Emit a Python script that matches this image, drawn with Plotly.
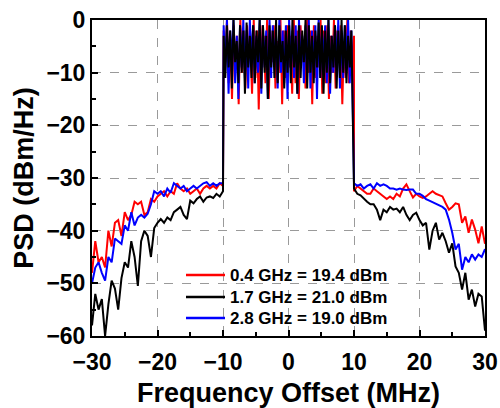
import numpy as np
import plotly.graph_objects as go

# ---- data ----
x_left = [-30 + 0.5 * i for i in range(41)]     # -30 ... -10
x_right = [10 + 0.5 * i for i in range(41)]     # 10 ... 30

red_left = [-48, -42, -46, -45, -47, -40, -43, -38.5, -38, -41, -36.5, -38, -37, -34.5, -35, -34.5,
            -37, -36.5, -34, -34.5, -33.5, -33, -32.5, -33.5, -32.5, -33, -31, -32, -32.5, -32,
            -33, -32.5, -32, -33, -32, -31.5, -32, -31.5, -32, -31, -31.5]
black_left = [-58, -52, -55, -53, -60, -54, -49.5, -51, -55, -49, -46, -47, -42, -45, -50.5, -42,
              -40, -41, -45, -39.5, -38.5, -37.8, -38.5, -37.5, -38, -36.5, -36, -35.5, -37, -37.8,
              -34.3, -34.8, -34, -33.5, -34.5, -33.7, -33.5, -33.8, -33, -33.5, -32.5]
blue_left = [-50, -47, -46, -48, -49.5, -45, -46, -41.5, -42, -42.5, -39, -40, -36.5, -39, -37.5,
             -37, -37.5, -36.8, -35, -32.5, -33, -32.5, -33.5, -32, -32.8, -31, -31.5, -32, -31.5,
             -32.5, -32, -31.5, -32, -31.5, -31, -30.8, -31.5, -31, -31.5, -31, -31]

red_in = [-2, -8, 0, -12, -4, -15, -1, -9, -3, -16, 0, -10, -2, -13, -1, -7, -5, -14, 0, -11, -2,
          -17, -1, -9, -3, -12, 0, -15, -2, -8, -1, -13, -4, -10, 0, -16, -2, -11, -1, -9, -3, -14,
          0, -12, -2, -15, -1, -8, -4, -13, 0, -10, -2, -16, -1, -11, -3, -9, 0, -14, -2, -12, -1,
          -15, -3, -10, 0, -13, -2, -8, -1, -16, -4, -11, 0, -12, -2, -9, -3]
black_in = [-3, -11, -1, -9, -2, -13, 0, -8, -4, -12, -1, -10, -2, -14, -0.5, -9, -3, -11, -1, -12,
            -2, -8, 0, -13, -1, -10, -3, -15, -1, -9, -2, -11, 0, -12, -1, -8, -4, -13, -2, -10, -1,
            -12, 0, -9, -3, -14, -1, -11, -2, -8, 0, -13, -1, -10, -3, -12, -2, -9, -0.5, -11, -1,
            -14, -2, -10, 0, -12, -3, -9, -1, -13, -2, -11, 0, -10, -1, -12, -3, -9, -2]
blue_in = [-1, -10, 0, -14, -2, -8, 0, -12, -3, -15, -1, -9, 0, -11, -2, -13, 0, -8, -1, -12, -3,
           -10, 0, -14, -1, -9, -2, -15, 0, -11, -1, -8, -3, -13, 0, -10, -2, -12, -1, -15, 0, -9,
           -2, -11, -1, -14, 0, -8, -3, -12, -1, -10, 0, -13, -2, -9, -1, -15, 0, -11, -2, -8, -1,
           -12, 0, -14, -3, -10, -1, -9, 0, -13, -2, -11, -1, -8, 0, -12, -2]

red_right = [-32.5, -31.5, -32, -32.5, -33, -33, -32, -32.5, -33, -33.5, -34, -33.5, -34, -33, -33.5,
             -32, -31.2, -32.5, -33.7, -33, -33.5, -33.8, -33.5, -33, -32.5, -33, -33.2, -33.5,
             -34.8, -36, -35.5, -34.8, -35, -38.5, -37.3, -40.4, -37.9, -39.8, -42.4, -39.2, -42.5]
black_right = [-32, -33, -33.3, -34, -34.5, -35, -35, -36, -38, -36, -36.5, -35.5, -36, -35.8, -36.5,
               -35.5, -37, -38, -37, -36.6, -38, -39, -38.5, -43.6, -40, -38.5, -41.7, -40.4, -42,
               -44.2, -42.4, -46.8, -48, -51.2, -48, -53.1, -51.2, -54.4, -52, -52.5, -59]
blue_right = [-31, -31.5, -31.2, -32, -31.5, -31.2, -32, -31, -31.5, -31.2, -31.5, -32, -32, -32.2,
              -32, -32.2, -32.3, -32.2, -32.2, -33, -33, -33.4, -34, -34.3, -34.6, -35, -35.2, -35.5,
              -36, -37.9, -40.4, -43.6, -42.5, -47.4, -45, -46, -44.5, -45.5, -44.5, -45, -43.5]

names = ["0.4 GHz = 19.4 dBm", "1.7 GHz = 21.0 dBm", "2.8 GHz = 19.0 dBm"]
colors = ["#ff0000", "#000000", "#0000ff"]

font_family = "Liberation Sans, Arial, sans-serif"

# plot-area geometry (pixels) used for the hand-placed legend
W, H = 500, 408
ML, MR, MT, MB = 92, 15, 20, 72
PW, PH = W - ML - MR, H - MT - MB


def px_to_paper(px, py):
    return (px - ML) / PW, (H - MB - py) / PH


def series(left, inband, right, in_start, in_end):
    xin = list(np.linspace(in_start, in_end, len(inband)))
    return x_left + xin + x_right, left + inband + right


fig = go.Figure()
traces = [
    (0, red_left, red_in, red_right, -9.9, 10.0),
    (2, blue_left, blue_in, blue_right, -9.9, 9.6),
    (1, black_left, black_in, black_right, -9.9, 9.6),
]
for idx, l, m, r, s, e in traces:
    xs, ys = series(l, m, r, s, e)
    fig.add_trace(go.Scatter(x=xs, y=ys, mode="lines", name=names[idx],
                             line=dict(color=colors[idx], width=2), showlegend=False))

# legend drawn as line samples + text
row_y = [275, 297, 318]
for i in range(3):
    x0, yy = px_to_paper(186, row_y[i])
    x1, _ = px_to_paper(225, row_y[i])
    fig.add_shape(type="line", xref="paper", yref="paper", x0=x0, x1=x1, y0=yy, y1=yy,
                  line=dict(color=colors[i], width=2.5))
    xt, _ = px_to_paper(228, row_y[i])
    fig.add_annotation(xref="paper", yref="paper", x=xt, y=yy, xanchor="left", yanchor="middle",
                       text=names[i], showarrow=False,
                       font=dict(family=font_family, size=17, color="black", weight="bold"))

axis_common = dict(
    showline=True, linecolor="black", linewidth=2, mirror=True,
    ticks="inside", ticklen=6, tickwidth=2, tickcolor="black",
    showgrid=True, gridcolor="#9a9a9a", griddash="dash", gridwidth=1,
    zeroline=False, automargin=False,
    tickfont=dict(family=font_family, size=23, color="black", weight="bold"),
    title_font=dict(family=font_family, size=27, color="black", weight="bold"),
    minor=dict(ticks="inside", ticklen=4, tickwidth=2, tickcolor="black", showgrid=False),
)

fig.update_xaxes(range=[-30, 30], dtick=10, tick0=-30, title_text="Frequency Offset (MHz)",
                 title_standoff=12, ticklabelstandoff=4, **axis_common)
fig.update_xaxes(minor_dtick=5)
fig.update_yaxes(range=[-60, 0], dtick=10, title_text="PSD (dBm/Hz)", title_standoff=5,
                 **axis_common)
fig.update_yaxes(minor_dtick=5)

fig.update_layout(
    width=W, height=H,
    margin=dict(l=ML, r=MR, t=MT, b=MB),
    paper_bgcolor="white", plot_bgcolor="white",
    showlegend=False,
)

fig.write_html("out.html")
